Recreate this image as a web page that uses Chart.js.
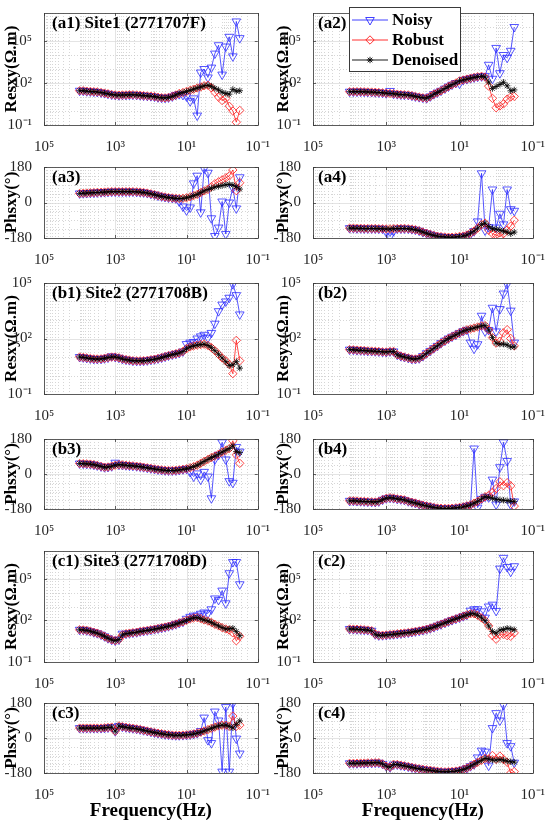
<!DOCTYPE html>
<html>
<head>
<meta charset="utf-8">
<script src="https://cdn.jsdelivr.net/npm/chart.js@4.4.1/dist/chart.umd.min.js"></script>
<style>
  html, body { margin: 0; padding: 0; background: #fff; }
  #fig { position: relative; width: 550px; height: 824px; overflow: hidden;
         font-family: "Liberation Serif", "Times New Roman", serif; }
  .panel { position: absolute; }
  .tag { position: absolute; font-weight: bold; font-size: 17px; line-height: 1;
         color: #000; white-space: nowrap; }
  .legend { position: absolute; background: #fff; border: 1px solid #3a3a3a;
            box-sizing: border-box; padding-top: 2px; }
  .lrow { height: 20px; display: flex; align-items: center; padding-left: 2px;
          font-weight: bold; font-size: 17px; color: #000; white-space: nowrap; }
  .lrow svg { margin-right: 4px; flex: none; }
</style>
</head>
<body>
<div id="fig"></div>
<script>
// frequencies (Hz), shared by every panel
const freq = [10000, 7900, 6300, 5000, 4000, 3200, 2500, 2000, 1600, 1260,
              1000, 790, 630, 500, 400, 320, 250, 200, 160, 126,
              100, 79, 63, 50, 40, 32, 25, 20, 16, 12.6,
              10, 7.9, 6.3, 5, 4, 3.2, 2.5, 2, 1.6, 1.26,
              1, 0.79, 0.63, 0.5, 0.4, 0.32];

// tick labels
const xTickValues = [1e5, 1e3, 10, 0.1];
const xTickLabels = ['10⁵', '10³', '10¹', '10⁻¹'];
const resTickValues = [0.1, 100, 1e5];
const resTickLabels = ['10⁻¹', '10²', '10⁵'];
const phsTickValues = [-180, 0, 180];
const phsTickLabels = ['-180', '0', '180'];

// ---- Site1 ----
const a1Noisy = [28,28,26,25,24,23,21,19,17,15,14,13.5,14,14,14.5,14.5,14,13.5,12.6,12,
  11.5,10.7,9.5,8.9,8.7,9.3,11,14,16,14,11,5,8,0.47,560,1000,250,1260,12600,5e4,
  400,4e4,2e5,8000,2.5e6,1.6e5];
const a1Robust = [28,28,26,25,24,23,21,19,17,15,14,13.5,14,14,14.5,14.5,14,13.5,12.6,12,
  11.5,10.7,9.5,8.9,8.7,9.3,11,14,18,21,25,30,36,44,52,63,69,45,22,10,
  5.6,7.9,2.2,1,0.16,1.1];
const a1Denoised = [28,28,26,25,24,23,21,19,17,15,14,13.5,14,14,14.5,14.5,14,13.5,12.6,12,
  11.5,10.7,9.5,8.9,8.7,9.3,11,14,18,21,25,30,36,44,52,63,69,58,42,32,
  22,18,16,35,26,28];

const a2Noisy = [24,24,24,24,23.5,23,22.5,22,21,20,18.6,27,17,16,15,14.5,14,12.6,11,9.8,
  8.9,8.3,11,16,21,28,40,56,76,100,90,165,190,220,250,280,300,320,2000,200,
  3.2e4,500,1e4,6300,2e4,1e6];
const a2Robust = [24,24,24,24,23.5,23,22.5,22,21,20,18.6,18,17,16,15,14.5,14,12.6,11,9.8,
  8.9,8.3,11,16,21,28,40,56,76,100,141,165,190,220,250,280,300,263,60,8,
  1.7,2.3,3.2,7,10,11];
const a2Denoised = [24,24,24,24,23.5,23,22.5,22,21,20,18.6,18,17,16,15,14.5,14,12.6,11,9.8,
  8.9,8.3,11,16,21,28,40,56,76,100,141,165,190,220,250,280,300,263,117,40,
  56,79,112,63,28,32];

const a3Noisy = [46,47,48,49,50,51,52,53,54,55,55,55,55,55,55,55,54,53,51,48,
  44,40,35,31,28,25,23,21,5,-20,-40,-25,97,136,-50,172,151,-80,-170,-127,
  5,-160,0,74,-30,128];
const a3Robust = [46,47,48,49,50,51,52,53,54,55,55,55,55,55,55,55,54,53,51,48,
  44,40,35,31,28,25,23,21,20,21,24,29,35,41,50,59,66,80,95,105,
  115,125,135,165,60,100];
const a3Denoised = [46,47,48,49,50,51,52,53,54,55,55,55,55,55,55,55,54,53,51,48,
  44,40,35,31,28,25,23,21,20,21,24,29,35,41,50,59,66,72,78,82,
  86,90,92,88,80,68];

const a4Noisy = [-130,-130,-131,-131,-132,-132,-132,-132,-133,-133,-150,-172,-145,-132,-132,-132,-133,-135,-138,-143,
  -150,-156,-162,-167,-171,-173,-175,-176,-176,-175,-175,-172,-168,-160,-145,-96,148,-142,-125,66,
  -127,-57,-111,66,-34,-42];
const a4Robust = [-130,-130,-131,-131,-132,-132,-132,-132,-133,-133,-134,-134,-133,-132,-132,-132,-133,-135,-138,-143,
  -150,-156,-162,-167,-171,-173,-175,-176,-176,-175,-172,-170,-165,-155,-145,-130,-112,-105,-140,-158,
  -165,-173,-158,-140,-120,-90];
const a4Denoised = [-130,-130,-131,-131,-132,-132,-132,-132,-133,-133,-134,-134,-133,-132,-132,-132,-133,-135,-138,-143,
  -150,-156,-162,-167,-171,-173,-175,-176,-176,-175,-172,-170,-165,-155,-145,-130,-112,-105,-122,-133,
  -135,-140,-145,-150,-158,-150];

// ---- Site2 ----
const b1Noisy = [10,9.5,8.9,8.3,7.9,7.8,7.9,8.5,9.3,11,10,9.1,7.9,7.2,6.8,6.3,6.2,6.2,6.3,6.6,
  7.1,7.6,8.3,9.3,10.5,12,13.5,15,16.6,20,50,60,65,100,130,158,110,200,630,3000,
  6800,1e4,1.6e4,8.7e4,2.2e4,2000];
const b1Robust = [10,9.5,8.9,8.3,7.9,7.8,7.9,8.5,9.3,10,10,9.1,7.9,7.2,6.8,6.3,6.2,6.2,6.3,6.6,
  7.1,7.6,8.3,9.3,10.5,12,13.5,15,16.6,20,28,35,40,44,47,49,42,32,22,14,
  8.9,6.3,4,1.26,79,6.3];
const b1Denoised = [10,9.5,8.9,8.3,7.9,7.8,7.9,8.5,9.3,10,10,9.1,7.9,7.2,6.8,6.3,6.2,6.2,6.3,6.6,
  7.1,7.6,8.3,9.3,10.5,12,13.5,15,16.6,20,28,35,40,44,47,49,42,32,22,14,
  8.9,5.6,3.5,3.8,5.6,2.5];

const b2Noisy = [25,24.5,23.5,23,22.4,21.4,21,20.4,20,19,18.6,20,20,13.2,11.2,10,8.9,7.9,7.8,8.5,
  11.2,16,21.4,30,40,56,76,100,126,158,200,250,295,60,28,49,1700,240,290,4600,
  240,3900,2.7e4,8.7e4,3200,60];
const b2Robust = [25,24.5,23.5,23,22.4,21.4,21,20.4,20,19,18.6,20,20,13.2,11.2,10,8.9,7.9,7.8,8.5,
  11.2,16,21.4,30,40,56,76,100,126,158,200,250,295,330,370,420,480,500,290,112,
  56,70,200,300,100,40];
const b2Denoised = [25,24.5,23.5,23,22.4,21.4,21,20.4,20,19,18.6,20,20,13.2,11.2,10,8.9,7.9,7.8,8.5,
  11.2,16,21.4,30,40,56,76,100,126,158,200,250,295,330,370,420,480,500,290,112,
  56,50,50,45,35,35];

const b3Noisy = [54,53,52,51,48,44,39,35,36,40,58,48,47,45,43,42,40,38,35,32,
  29,26,23,21,19,18,18,19,21,24,27,10,-13,3,-29,11,-13,-125,75,99,
  163,75,-37,-45,139,115];
const b3Robust = [54,53,52,51,48,44,39,35,36,40,45,48,47,45,43,42,40,38,35,32,
  29,26,23,21,19,18,18,19,21,24,27,32,38,45,55,65,75,85,92,102,
  113,122,131,171,99,55];
const b3Denoised = [54,53,52,51,48,44,39,35,36,40,45,48,47,45,43,42,40,38,35,32,
  29,26,23,21,19,18,18,19,21,24,27,32,38,45,55,65,75,85,92,102,
  113,122,131,145,115,110];

const b4Noisy = [-138,-138,-139,-140,-141,-142,-143,-144,-141,-132,-125,-122,-124,-128,-130,-133,-140,-145,-149,-155,
  -160,-164,-168,-172,-175,-176,-177,-177,-176,-174,-172,-169,-164,-159,131,-173,-128,-117,-120,-29,
  -157,35,163,67,-157,-141];
const b4Robust = [-138,-138,-139,-140,-141,-142,-143,-144,-141,-132,-125,-122,-124,-128,-130,-133,-140,-145,-149,-155,
  -160,-164,-168,-172,-175,-176,-177,-177,-176,-174,-172,-169,-164,-159,-150,-141,-128,-117,-110,-95,
  -75,-40,-60,-45,-61,-165];
const b4Denoised = [-138,-138,-139,-140,-141,-142,-143,-144,-141,-132,-125,-122,-124,-128,-130,-133,-140,-145,-149,-155,
  -160,-164,-168,-172,-175,-176,-177,-177,-176,-174,-172,-169,-164,-159,-150,-141,-128,-117,-120,-125,
  -130,-133,-135,-137,-140,-141];

// ---- Site3 ----
const c1Noisy = [21,20.5,19,16.6,14,12,9.3,7.1,5.2,4,3.5,4.2,11,11,12,13,14,16,17.4,19,
  21,23.4,26,29.5,33,38,45,54,66,79,130,180,220,220,300,370,320,630,3800,3000,
  1.4e4,1700,2.5e5,1.6e6,1.6e6,4e4];
const c1Robust = [21,20.5,19,16.6,14,12,9.3,7.1,5.2,4,3.5,4.2,8.9,11,12,13,14,16,17.4,19,
  21,23.4,26,29.5,33,38,45,54,66,79,100,126,151,158,132,107,89,71,52,40,
  30,24,20,12.6,3.4,7.1];
const c1Denoised = [21,20.5,19,16.6,14,12,9.3,7.1,5.2,4,3.5,4.2,8.9,11,12,13,14,16,17.4,19,
  21,23.4,26,29.5,33,38,45,54,66,79,100,126,151,158,132,107,89,71,52,40,
  30,24,25,27,16,7.9];

const c2Noisy = [24,23.5,23,22,21,20,18,10,8.3,8.5,8.9,9.5,10,10.7,11.5,12.3,13.2,14.5,16,17.8,
  20,23,27,33,42,52,66,83,105,129,158,200,250,500,630,630,450,158,1000,1350,
  480,5.4e5,3.2e6,7e5,3.2e5,8e5];
const c2Robust = [24,23.5,23,22,21,20,18,10,8.3,8.5,8.9,9.5,10,10.7,11.5,12.3,13.2,14.5,16,17.8,
  20,23,27,33,42,52,66,83,105,129,158,200,250,300,300,230,150,95,40,7.9,
  4.4,10,10,7.9,7.1,12.6];
const c2Denoised = [24,23.5,23,22,21,20,18,10,8.3,8.5,8.9,9.5,10,10.7,11.5,12.3,13.2,14.5,16,17.8,
  20,23,27,33,42,52,66,83,105,129,158,200,250,300,300,230,150,95,40,16,
  12,20,22,27,24,21];

const c3Noisy = [51,51,51,51,51,51,51,52,54,56,35,62,58,55,52,50,47,44,40,36,
  32,28,25,22,19,17,15,14,14,15,16,18,21,25,36,105,-11,-26,136,90,
  -173,159,-173,178,-3,-80];
const c3Robust = [51,51,51,51,51,51,51,52,54,56,35,62,58,55,52,50,47,44,40,36,
  32,28,25,22,19,17,15,14,14,15,16,18,21,25,30,36,43,50,56,62,
  66,66,60,113,60,66];
const c3Denoised = [51,51,51,51,51,51,51,52,54,56,35,62,58,55,52,50,47,44,40,36,
  32,28,25,22,19,17,15,14,14,15,16,18,21,25,30,36,43,50,56,62,
  66,66,60,52,70,88];

const c4Noisy = [-130,-130,-130,-129,-129,-128,-128,-127,-127,-133,-145,-150,-136,-136,-140,-143,-147,-151,-155,-158,
  -161,-164,-166,-169,-171,-173,-174,-173,-172,-170,-167,-162,-155,-145,-135,-100,-65,-70,-142,51,
  128,90,170,-26,-42,-127];
const c4Robust = [-130,-130,-130,-129,-129,-128,-128,-127,-127,-133,-145,-150,-136,-136,-140,-143,-147,-151,-155,-158,
  -161,-164,-166,-169,-171,-173,-174,-173,-172,-170,-167,-162,-155,-145,-135,-125,-115,-105,-108,-90,
  -110,-93,-110,-125,-180,-173];
const c4Denoised = [-130,-130,-130,-129,-129,-128,-128,-127,-127,-133,-145,-150,-136,-136,-140,-143,-147,-151,-155,-158,
  -161,-164,-166,-169,-171,-173,-174,-173,-172,-170,-167,-162,-155,-145,-135,-125,-115,-105,-108,-113,
  -114,-111,-114,-119,-122,-124];

// ---------------------------------------------------------------
const FONT = '"Liberation Serif", "Times New Roman", serif';
const TICK_COLOR = '#262626';

const rowTop = [7, 161, 277, 433, 545, 697];
const rowBottom = [125, 238, 394, 509, 662, 773];
const colLeft = [44, 313];
const plotW = 224;

const panels = [
  { row: 0, col: 0, kind: 'res', yMax: 1e7, title: 'Resxy(Ω.m)', tag: '(a1) Site1 (2771707F)', series: [a1Noisy, a1Robust, a1Denoised] },
  { row: 0, col: 1, kind: 'res', yMax: 1e7, title: 'Resyx(Ω.m)', tag: '(a2)', series: [a2Noisy, a2Robust, a2Denoised] },
  { row: 1, col: 0, kind: 'phs', title: 'Phsxy(°)', tag: '(a3)', series: [a3Noisy, a3Robust, a3Denoised] },
  { row: 1, col: 1, kind: 'phs', title: 'Phsyx(°)', tag: '(a4)', series: [a4Noisy, a4Robust, a4Denoised] },
  { row: 2, col: 0, kind: 'res', yMax: 1e5, title: 'Resxy(Ω.m)', tag: '(b1) Site2 (2771708B)', series: [b1Noisy, b1Robust, b1Denoised] },
  { row: 2, col: 1, kind: 'res', yMax: 1e5, title: 'Resyx(Ω.m)', tag: '(b2)', series: [b2Noisy, b2Robust, b2Denoised] },
  { row: 3, col: 0, kind: 'phs', title: 'Phsxy(°)', tag: '(b3)', series: [b3Noisy, b3Robust, b3Denoised] },
  { row: 3, col: 1, kind: 'phs', title: 'Phsyx(°)', tag: '(b4)', series: [b4Noisy, b4Robust, b4Denoised] },
  { row: 4, col: 0, kind: 'res', yMax: 1e7, title: 'Resxy(Ω.m)', tag: '(c1) Site3 (2771708D)', series: [c1Noisy, c1Robust, c1Denoised] },
  { row: 4, col: 1, kind: 'res', yMax: 1e7, title: 'Resyx(Ω.m)', tag: '(c2)', series: [c2Noisy, c2Robust, c2Denoised] },
  { row: 5, col: 0, kind: 'phs', title: 'Phsxy(°)', tag: '(c3)', series: [c3Noisy, c3Robust, c3Denoised] },
  { row: 5, col: 1, kind: 'phs', title: 'Phsyx(°)', tag: '(c4)', series: [c4Noisy, c4Robust, c4Denoised] }
];

const seriesStyles = [
  { label: 'Noisy', color: '#2b2bff', pointStyle: 'triangle', pointRotation: 180, pointRadius: 5, order: 3 },
  { label: 'Robust', color: '#ff1a1a', pointStyle: 'rectRot', pointRotation: 0, pointRadius: 4.2, order: 2 },
  { label: 'Denoised', color: '#000000', pointStyle: 'star', pointRotation: 0, pointRadius: 3.2, order: 1 }
];

// minor grid positions (styling only)
const xMinorGrid = [];
for (let n = -1; n <= 4; n++) {
  for (let k = 1; k <= 9; k++) {
    const v = k * Math.pow(10, n);
    if (!xTickValues.includes(v)) xMinorGrid.push(v);
  }
}

function axesPlugin(p) {
  const yMinor = p.kind === 'res'
    ? [1, 10, 1000, 1e4, 1e6].filter(v => v < p.yMax)
    : [-135, -90, -45, 45, 90, 135];
  const yMajor = p.kind === 'res' ? resTickValues : phsTickValues;
  return {
    id: 'matlabAxes',
    beforeDatasetsDraw(chart) {
      const { ctx, chartArea: a, scales: { x, y } } = chart;
      ctx.save();
      ctx.lineWidth = 0.7;
      ctx.strokeStyle = '#c4c4c4';
      ctx.setLineDash([1, 2]);
      ctx.beginPath();
      xMinorGrid.forEach(v => {
        const px = Math.round(x.getPixelForValue(v)) + 0.5;
        ctx.moveTo(px, a.top); ctx.lineTo(px, a.bottom);
      });
      yMinor.forEach(v => {
        const py = Math.round(y.getPixelForValue(v)) + 0.5;
        ctx.moveTo(a.left, py); ctx.lineTo(a.right, py);
      });
      ctx.stroke();
      ctx.setLineDash([]);
      ctx.strokeStyle = '#d8d8d8';
      ctx.beginPath();
      xTickValues.forEach(v => {
        const px = Math.round(x.getPixelForValue(v)) + 0.5;
        ctx.moveTo(px, a.top); ctx.lineTo(px, a.bottom);
      });
      yMajor.forEach(v => {
        const py = Math.round(y.getPixelForValue(v)) + 0.5;
        ctx.moveTo(a.left, py); ctx.lineTo(a.right, py);
      });
      ctx.stroke();
      ctx.restore();
    },
    afterDatasetsDraw(chart) {
      const { ctx, chartArea: a, scales: { x, y } } = chart;
      ctx.save();
      ctx.strokeStyle = '#3a3a3a';
      ctx.lineWidth = 0.8;
      ctx.strokeRect(Math.round(a.left) + 0.5, Math.round(a.top) + 0.5,
                     Math.round(a.width), Math.round(a.height));
      // inward tick marks
      ctx.beginPath();
      xTickValues.forEach(v => {
        const px = Math.round(x.getPixelForValue(v)) + 0.5;
        ctx.moveTo(px, a.bottom); ctx.lineTo(px, a.bottom - 3);
        ctx.moveTo(px, a.top); ctx.lineTo(px, a.top + 3);
      });
      yMajor.forEach(v => {
        const py = Math.round(y.getPixelForValue(v)) + 0.5;
        ctx.moveTo(a.left, py); ctx.lineTo(a.left + 3, py);
        ctx.moveTo(a.right, py); ctx.lineTo(a.right - 3, py);
      });
      ctx.stroke();
      ctx.restore();
    }
  };
}

const fig = document.getElementById('fig');

panels.forEach(p => {
  const plotLeft = colLeft[p.col];
  const plotTop = rowTop[p.row];
  const plotBottom = rowBottom[p.row];
  const bottomRow = p.row === 5;
  const cvLeft = p.col === 0 ? 0 : 272;
  const cvWidth = p.col === 0 ? 275 : 278;
  const padTop = 7;
  const xH = bottomRow ? 50 : 26;
  const cvTop = plotTop - padTop;
  const cvHeight = (plotBottom - plotTop) + padTop + xH;
  const yW = plotLeft - cvLeft;
  const padRight = cvLeft + cvWidth - (plotLeft + plotW);

  const wrap = document.createElement('div');
  wrap.className = 'panel';
  wrap.style.left = cvLeft + 'px';
  wrap.style.top = cvTop + 'px';
  wrap.style.width = cvWidth + 'px';
  wrap.style.height = cvHeight + 'px';
  const cv = document.createElement('canvas');
  cv.width = cvWidth;
  cv.height = cvHeight;
  cv.style.width = cvWidth + 'px';
  cv.style.height = cvHeight + 'px';
  wrap.appendChild(cv);
  fig.appendChild(wrap);

  const datasets = p.series.map((vals, s) => {
    const st = seriesStyles[s];
    return {
      label: st.label,
      data: vals.map((v, i) => ({ x: freq[i], y: v })),
      borderColor: st.color,
      borderWidth: 0.8,
      pointStyle: st.pointStyle,
      pointRotation: st.pointRotation,
      pointRadius: st.pointRadius,
      pointBorderColor: st.color,
      pointBorderWidth: 0.8,
      pointBackgroundColor: 'rgba(0,0,0,0)',
      tension: 0,
      order: st.order
    };
  });

  const isRes = p.kind === 'res';
  const yTicks = isRes ? resTickValues : phsTickValues;
  const yLabels = isRes ? resTickLabels : phsTickLabels;

  new Chart(cv.getContext('2d'), {
    type: 'line',
    data: { datasets },
    options: {
      responsive: false,
      animation: false,
      events: [],
      layout: { padding: { top: padTop, right: padRight, left: 0, bottom: 0 } },
      plugins: { legend: { display: false }, tooltip: { enabled: false } },
      scales: {
        x: {
          type: 'logarithmic',
          reverse: true,
          min: 0.1,
          max: 1e5,
          grid: { display: false },
          border: { display: false },
          afterBuildTicks: s => { s.ticks = xTickValues.map(v => ({ value: v })); },
          afterFit: s => { s.height = xH; },
          ticks: {
            autoSkip: false,
            maxRotation: 0,
            padding: 5,
            color: TICK_COLOR,
            font: { family: FONT, size: 15 },
            callback: (v, i) => xTickLabels[i]
          },
          title: {
            display: bottomRow,
            text: 'Frequency(Hz)',
            color: '#000',
            font: { family: FONT, size: 19, weight: 'bold' },
            padding: { top: 0, bottom: 1 }
          }
        },
        y: {
          type: isRes ? 'logarithmic' : 'linear',
          min: isRes ? 0.1 : -180,
          max: isRes ? p.yMax : 180,
          grid: { display: false },
          border: { display: false },
          afterBuildTicks: s => { s.ticks = yTicks.map(v => ({ value: v })); },
          afterFit: s => { s.width = yW; },
          ticks: {
            autoSkip: false,
            padding: 4,
            color: TICK_COLOR,
            font: { family: FONT, size: 15 },
            callback: (v, i) => yLabels[i]
          },
          title: {
            display: true,
            text: p.title,
            color: '#000',
            font: { family: FONT, size: 17, weight: 'bold' },
            padding: { top: 1, bottom: 0 }
          }
        }
      }
    },
    plugins: [axesPlugin(p)]
  });

  const tag = document.createElement('div');
  tag.className = 'tag';
  tag.textContent = p.tag;
  tag.style.left = (plotLeft + (p.col === 0 ? 8 : 5)) + 'px';
  tag.style.top = (plotTop + 7) + 'px';
  fig.appendChild(tag);
});

// legend inside (a2)
const legend = document.createElement('div');
legend.className = 'legend';
legend.style.left = '349px';
legend.style.top = '7px';
legend.style.width = '112px';
legend.style.height = '65px';
const icons = [
  '<line x1="0" y1="7" x2="36" y2="7" stroke="#2b2bff" stroke-width="0.9"/>' +
  '<polygon points="18,12 13.7,4.5 22.3,4.5" fill="none" stroke="#2b2bff" stroke-width="0.9"/>',
  '<line x1="0" y1="7" x2="36" y2="7" stroke="#ff1a1a" stroke-width="0.9"/>' +
  '<polygon points="18,2.8 22.2,7 18,11.2 13.8,7" fill="none" stroke="#ff1a1a" stroke-width="0.9"/>',
  '<line x1="0" y1="7" x2="36" y2="7" stroke="#000" stroke-width="0.9"/>' +
  '<path d="M18 3.8V10.2M14.8 7H21.2M15.7 4.7L20.3 9.3M20.3 4.7L15.7 9.3" stroke="#000" stroke-width="0.9"/>'
];
seriesStyles.forEach((st, s) => {
  const row = document.createElement('div');
  row.className = 'lrow';
  row.innerHTML = '<svg width="36" height="14" viewBox="0 0 36 14">' + icons[s] + '</svg><span>' + st.label + '</span>';
  legend.appendChild(row);
});
fig.appendChild(legend);
</script>
</body>
</html>
